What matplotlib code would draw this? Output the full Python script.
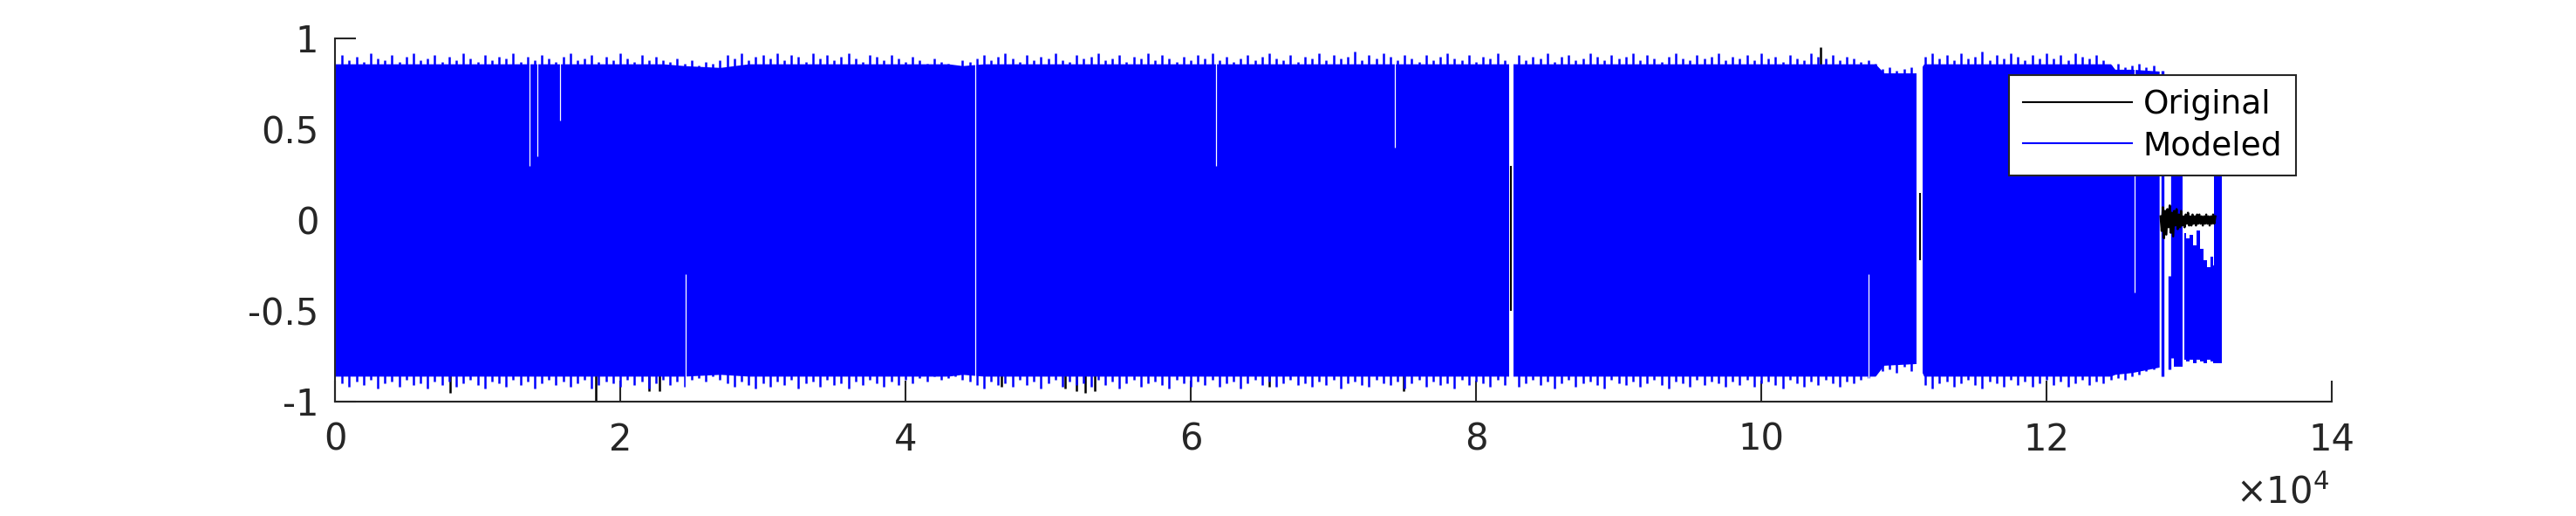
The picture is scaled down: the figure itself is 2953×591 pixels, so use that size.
import matplotlib
matplotlib.use('Agg')
import matplotlib.pyplot as plt
from matplotlib.lines import Line2D

plt.rcParams['font.family'] = ['DejaVu Sans']

# ------------------------------------------------------------------ data
# modeled signal: solid core of the band (sample, upper, lower)
core_x = [0, 23000, 24500, 27000, 29000, 43000, 44000, 45500, 108000, 108600,
          111000, 111400, 124500, 124800, 126000, 127900]
core_upper = [0.86, 0.86, 0.85, 0.84, 0.86, 0.86, 0.85, 0.86, 0.86, 0.81,
              0.81, 0.86, 0.86, 0.83, 0.83, 0.82]
core_lower = [-0.86, -0.86, -0.86, -0.85, -0.86, -0.86, -0.85, -0.86, -0.86, -0.80,
              -0.79, -0.86, -0.86, -0.85, -0.84, -0.81]

# modeled signal: peak values, one pair per 500 samples (500 ... 127500)
peak_upper = [
    0.91, 0.88, 0.90, 0.87, 0.92, 0.89, 0.88, 0.91, 0.87, 0.90, 0.92, 0.88, 0.89, 0.91, 0.87,
    0.90, 0.88, 0.92, 0.89, 0.87, 0.91, 0.88, 0.90, 0.89, 0.92, 0.87, 0.90, 0.88, 0.91, 0.89,
    0.87, 0.90, 0.92, 0.88, 0.89, 0.91, 0.87, 0.90, 0.88, 0.92, 0.89, 0.87, 0.91, 0.88, 0.90,
    0.88, 0.87, 0.89, 0.86, 0.88, 0.85, 0.87, 0.86, 0.88, 0.91, 0.89, 0.92, 0.88, 0.90, 0.91,
    0.89, 0.92, 0.88, 0.91, 0.90, 0.87, 0.92, 0.89, 0.91, 0.88, 0.90, 0.92, 0.89, 0.87, 0.91,
    0.90, 0.88, 0.91, 0.89, 0.87, 0.90, 0.88, 0.86, 0.89, 0.87, 0.86, 0.85, 0.88, 0.87, 0.89,
    0.91, 0.88, 0.90, 0.92, 0.89, 0.87, 0.91, 0.88, 0.90, 0.89, 0.92, 0.88, 0.87, 0.91, 0.89,
    0.90, 0.92, 0.88, 0.89, 0.91, 0.87, 0.90, 0.89, 0.92, 0.88, 0.91, 0.89, 0.87, 0.90, 0.88,
    0.91, 0.89, 0.92, 0.88, 0.90, 0.87, 0.89, 0.91, 0.88, 0.90, 0.92, 0.89, 0.88, 0.91, 0.87,
    0.90, 0.89, 0.92, 0.88, 0.91, 0.89, 0.90, 0.93, 0.88, 0.91, 0.89, 0.92, 0.90, 0.88, 0.91,
    0.89, 0.87, 0.91, 0.88, 0.90, 0.92, 0.89, 0.88, 0.91, 0.87, 0.90, 0.89, 0.92, 0.88, 0.90,
    0.91, 0.88, 0.90, 0.89, 0.92, 0.87, 0.90, 0.91, 0.88, 0.89, 0.92, 0.90, 0.88, 0.91, 0.89,
    0.90, 0.92, 0.88, 0.91, 0.89, 0.87, 0.90, 0.92, 0.89, 0.88, 0.91, 0.89, 0.90, 0.92, 0.88,
    0.90, 0.89, 0.91, 0.88, 0.92, 0.89, 0.90, 0.87, 0.91, 0.89, 0.88, 0.92, 0.90, 0.89, 0.91,
    0.88, 0.90, 0.89, 0.87, 0.88, 0.86, 0.83, 0.84, 0.82, 0.83, 0.84, 0.82, 0.90, 0.92, 0.89,
    0.91, 0.88, 0.92, 0.89, 0.90, 0.93, 0.88, 0.91, 0.89, 0.92, 0.90, 0.88, 0.91, 0.89, 0.92,
    0.89, 0.91, 0.88, 0.92, 0.90, 0.89, 0.91, 0.88, 0.85, 0.86, 0.84, 0.85, 0.86, 0.84, 0.85,
]
peak_lower = [
    -0.90, -0.92, -0.89, -0.91, -0.88, -0.93, -0.90, -0.89, -0.92, -0.88, -0.91, -0.90, -0.93, -0.89, -0.91,
    -0.89, -0.92, -0.90, -0.88, -0.91, -0.93, -0.89, -0.90, -0.92, -0.88, -0.91, -0.89, -0.93, -0.90, -0.88,
    -0.91, -0.89, -0.92, -0.90, -0.88, -0.93, -0.91, -0.89, -0.90, -0.92, -0.88, -0.91, -0.89, -0.93, -0.90,
    -0.88, -0.91, -0.89, -0.92, -0.88, -0.87, -0.89, -0.86, -0.88, -0.90, -0.92, -0.89, -0.91, -0.93, -0.90,
    -0.92, -0.89, -0.91, -0.88, -0.93, -0.90, -0.89, -0.92, -0.88, -0.91, -0.90, -0.93, -0.89, -0.91, -0.88,
    -0.90, -0.92, -0.89, -0.91, -0.88, -0.90, -0.87, -0.89, -0.86, -0.88, -0.87, -0.86, -0.88, -0.89, -0.91,
    -0.93, -0.89, -0.91, -0.90, -0.92, -0.88, -0.91, -0.89, -0.93, -0.90, -0.88, -0.92, -0.89, -0.91, -0.90,
    -0.92, -0.88, -0.91, -0.89, -0.93, -0.90, -0.88, -0.92, -0.90, -0.89, -0.91, -0.93, -0.88, -0.90, -0.92,
    -0.89, -0.91, -0.88, -0.92, -0.90, -0.89, -0.93, -0.90, -0.88, -0.91, -0.89, -0.92, -0.90, -0.88, -0.91,
    -0.90, -0.92, -0.89, -0.91, -0.88, -0.93, -0.90, -0.89, -0.91, -0.92, -0.88, -0.90, -0.91, -0.89, -0.93,
    -0.90, -0.88, -0.92, -0.89, -0.91, -0.90, -0.93, -0.88, -0.91, -0.89, -0.90, -0.92, -0.88, -0.91, -0.89,
    -0.92, -0.90, -0.88, -0.91, -0.89, -0.93, -0.90, -0.88, -0.92, -0.90, -0.89, -0.91, -0.93, -0.88, -0.90,
    -0.91, -0.89, -0.92, -0.90, -0.88, -0.91, -0.93, -0.89, -0.90, -0.92, -0.88, -0.91, -0.89, -0.90, -0.92,
    -0.89, -0.91, -0.88, -0.92, -0.90, -0.89, -0.91, -0.93, -0.88, -0.90, -0.92, -0.89, -0.91, -0.88, -0.90,
    -0.92, -0.89, -0.90, -0.88, -0.87, -0.85, -0.83, -0.82, -0.84, -0.81, -0.83, -0.82, -0.91, -0.93, -0.90,
    -0.89, -0.92, -0.90, -0.88, -0.91, -0.93, -0.89, -0.90, -0.92, -0.88, -0.91, -0.89, -0.92, -0.90, -0.88,
    -0.91, -0.89, -0.92, -0.90, -0.88, -0.91, -0.89, -0.90, -0.88, -0.87, -0.88, -0.86, -0.85, -0.83, -0.82,
]

# modeled signal: isolated strokes and blocks near the end of the recording
mod_stroke_x = [128150, 128600, 128800]
mod_stroke_lo = [-0.86, -0.82, -0.76]
mod_stroke_hi = [0.82, -0.31, 0.25]

mod_block_x0 = [128930, 131740]
mod_block_x1 = [129540, 132290]
mod_block_lo = [-0.81, -0.79]
mod_block_hi = [0.80, 0.30]

mod_tail_x = [129640, 129900, 130150, 130400, 130650, 130900, 131150, 131400, 131600, 131740]
mod_tail_hi = [-0.07, -0.10, -0.08, -0.14, -0.06, -0.16, -0.22, -0.26, -0.20, -0.25]
mod_tail_lo = [-0.77, -0.78, -0.77, -0.79, -0.77, -0.78, -0.79, -0.77, -0.78, -0.79]

# places where the modeled trace leaves the band empty (sample, from, to)
gap_x = [13650, 14200, 15800, 24600, 44900, 61800, 74300, 107500, 126200]
gap_lo = [0.30, 0.35, 0.55, -0.93, -0.93, 0.30, 0.40, -0.93, -0.40]
gap_hi = [0.93, 0.93, 0.93, -0.30, 0.93, 0.93, 0.93, -0.30, 0.93]
wide_gap_x0 = [82300, 110900]
wide_gap_x1 = [82600, 111300]
wide_gap_lo = [-0.93, -0.90]
wide_gap_hi = [0.93, 0.93]

# original signal: coarse envelope (hidden), peaks, lines in gaps and tail
orig_env_x = [0, 127900]
orig_upper = [0.75, 0.75]
orig_lower = [-0.75, -0.75]

orig_peak_x = [8050, 18300, 22000, 22750, 46700, 51200, 52000, 52600, 53300,
               65500, 74900, 104150]
orig_peak_y = [-0.95, -1.00, -0.94, -0.94, -0.92, -0.93, -0.94, -0.95, -0.94,
               -0.92, -0.94, 0.95]

orig_gap_x = [0, 82450, 111150]
orig_gap_lo = [-0.33, -0.50, -0.22]
orig_gap_hi = [0.28, 0.30, 0.15]

orig_tail_x = list(range(128000, 131920, 80))
orig_tail_y = [0.02, -0.06, 0.07, -0.10, 0.05, -0.08, 0.06, -0.04, 0.08, -0.07,
               0.04, -0.09, 0.05, -0.03, 0.06, -0.05, 0.03, -0.04, 0.05, -0.03,
               0.02, -0.04, 0.03, -0.02, 0.04, -0.03, 0.02, -0.03, 0.03, -0.02,
               0.02, -0.03, 0.03, -0.02, 0.03, -0.02, 0.02, -0.03, 0.02, -0.02,
               0.03, -0.02, 0.02, -0.03, 0.02, -0.02, 0.03, -0.02, 0.02]

x_ticks = [0, 20000, 40000, 60000, 80000, 100000, 120000, 140000]
x_tick_labels = ['0', '2', '4', '6', '8', '10', '12', '14']
y_ticks = [-1, -0.5, 0, 0.5, 1]
y_tick_labels = ['-1', '-0.5', '0', '0.5', '1']
series_labels = ['Original', 'Modeled']

# ------------------------------------------------------------------ figure
W, H, DPI = 2953, 591, 300
fig = plt.figure(figsize=(W / DPI, H / DPI), dpi=DPI)
ax = fig.add_axes([384 / W, (H - 460) / H, 2289 / W, 416 / H])

BLUE = (0, 0, 1)
BLACK = (0, 0, 0)
AXC = (0.15, 0.15, 0.15)
LW = 0.5

peak_x = list(range(500, 500 * (len(peak_upper) + 1), 500))

# original (drawn first, mostly hidden by the modeled trace)
ax.fill_between(orig_env_x, orig_lower, orig_upper, color=BLACK, lw=0, zorder=1)
ax.vlines(orig_peak_x, 0, orig_peak_y, color=BLACK, lw=0.6, zorder=1.1)

# modeled
ax.fill_between(core_x, core_lower, core_upper, color=BLUE, lw=0, zorder=2)
ax.vlines(peak_x, 0, peak_upper, color=BLUE, lw=0.6, zorder=2)
ax.vlines(peak_x, peak_lower, 0, color=BLUE, lw=0.6, zorder=2)
ax.vlines(mod_stroke_x, mod_stroke_lo, mod_stroke_hi, color=BLUE, lw=0.8, zorder=2)
for x0, x1, lo, hi in zip(mod_block_x0, mod_block_x1, mod_block_lo, mod_block_hi):
    ax.fill_between([x0, x1], [lo, lo], [hi, hi], color=BLUE, lw=0, zorder=2)
ax.fill_between(mod_tail_x, mod_tail_lo, mod_tail_hi, step='mid', color=BLUE,
                lw=0, zorder=2)

# empty places inside the band
ax.vlines(gap_x, gap_lo, gap_hi, color='white', lw=0.3, zorder=2.2)
for x0, x1, lo, hi in zip(wide_gap_x0, wide_gap_x1, wide_gap_lo, wide_gap_hi):
    ax.fill_between([x0, x1], [lo, lo], [hi, hi], color='white', lw=0, zorder=2.2)
ax.vlines(orig_gap_x, orig_gap_lo, orig_gap_hi, color=BLACK, lw=0.5, zorder=2.5)

# visible part of the original near the end
ax.plot(orig_tail_x, orig_tail_y, color=BLACK, lw=0.6, zorder=3)

# ------------------------------------------------------------------ axes
ax.set_xlim(0, 140000)
ax.set_ylim(-1, 1)
ax.set_xticks(x_ticks)
ax.set_xticklabels(x_tick_labels)
ax.set_yticks(y_ticks)
ax.set_yticklabels(y_tick_labels)
for s in ['top', 'right']:
    ax.spines[s].set_visible(False)
for s in ['left', 'bottom']:
    ax.spines[s].set_color(AXC)
    ax.spines[s].set_linewidth(LW)
    ax.spines[s].set_zorder(4)
ax.tick_params(direction='in', length=5.8, width=LW, color=AXC,
               labelcolor=AXC, labelsize=10)
ax.tick_params(axis='x', pad=5.5)
ax.tick_params(axis='y', pad=4.5)

ax.text(0.9987, -0.281, r'$\times10^{4}$', transform=ax.transAxes,
        ha='right', va='baseline', fontsize=10, color=AXC)

handles = [Line2D([], [], color=BLACK, lw=LW), Line2D([], [], color=BLUE, lw=LW)]
leg = ax.legend(handles, series_labels, loc='upper right',
                bbox_to_anchor=(0.9821, 0.899), borderaxespad=0,
                fontsize=9, fancybox=False, framealpha=1, edgecolor=AXC,
                handlelength=3.33, handletextpad=0.35, borderpad=0.42,
                labelspacing=0.3)
leg.get_frame().set_linewidth(LW)
leg.set_zorder(5)

fig.savefig('out.png', dpi=DPI)
